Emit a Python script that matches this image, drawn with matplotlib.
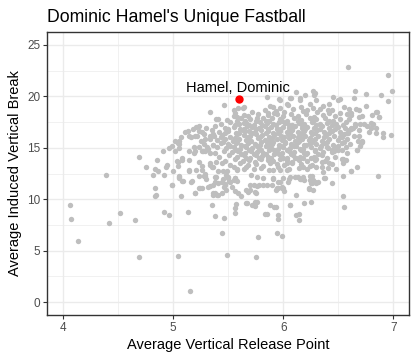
import matplotlib
matplotlib.use("Agg")
import matplotlib.pyplot as plt
import numpy as np

plt.rcParams['font.family'] = ['Liberation Sans', 'DejaVu Sans']

title = "Dominic Hamel's Unique Fastball"
x_label = "Average Vertical Release Point"
y_label = "Average Induced Vertical Break"
x_ticks = [4, 5, 6, 7]
y_ticks = [0, 5, 10, 15, 20, 25]

highlight_name = "Hamel, Dominic"
highlight_pt = (5.60, 19.7)

# dense core of the league cloud (release height, induced vertical break)
core_pts = [
    (5.88,19.1),(5.97,18.9),(6.04,19.2),(6.16,19.0),(6.27,18.9),(6.36,19.1),
    (5.72,18.5),(5.83,18.7),(5.93,18.6),(6.01,18.45),(6.09,18.75),(6.18,18.55),(6.22,18.7),(6.31,18.5),(6.44,18.65),
    (5.68,18.1),(5.77,18.3),(5.86,18.15),(5.94,18.25),(6.00,18.05),(6.07,18.3),(6.13,18.1),(6.21,18.25),(6.28,18.0),(6.36,18.2),(6.47,18.1),(6.58,18.3),
    (5.49,17.7),(5.62,17.9),(5.70,17.75),(5.76,17.85),(5.84,17.65),(5.90,17.9),(5.97,17.8),(6.03,17.6),(6.10,17.85),(6.16,17.7),(6.24,17.9),(6.30,17.75),(6.38,17.85),(6.45,17.65),(6.60,17.8),
    (5.43,17.3),(5.52,17.5),(5.60,17.35),(5.66,17.45),(5.73,17.25),(5.79,17.5),(5.85,17.4),(5.91,17.3),(5.96,17.55),(6.02,17.4),(6.08,17.25),(6.14,17.45),(6.19,17.35),(6.26,17.5),(6.33,17.3),(6.40,17.45),(6.48,17.35),(6.57,17.5),(6.70,17.3),
    (5.30,16.9),(5.38,17.1),(5.47,16.95),(5.55,17.05),(5.61,16.85),(5.67,17.1),(5.72,17.0),(5.78,16.9),(5.83,17.15),(5.89,17.0),(5.94,16.85),(6.00,17.05),(6.05,16.95),(6.11,17.15),(6.17,16.9),(6.22,17.05),(6.28,16.95),(6.35,17.1),(6.42,16.9),(6.50,17.05),(6.63,16.95),(6.76,17.1),
    (5.26,16.5),(5.35,16.7),(5.42,16.55),(5.50,16.65),(5.57,16.45),(5.63,16.7),(5.69,16.6),(5.74,16.5),(5.80,16.75),(5.86,16.6),(5.91,16.45),(5.97,16.65),(6.03,16.55),(6.08,16.75),(6.13,16.5),(6.19,16.65),(6.25,16.55),(6.31,16.7),(6.37,16.5),(6.44,16.65),(6.52,16.55),(6.60,16.7),(6.78,16.5),
    (5.20,16.1),(5.28,16.3),(5.37,16.15),(5.44,16.25),(5.52,16.05),(5.58,16.3),(5.64,16.2),(5.70,16.1),(5.75,16.35),(5.81,16.2),(5.87,16.05),(5.92,16.25),(5.98,16.15),(6.04,16.35),(6.09,16.1),(6.15,16.25),(6.20,16.15),(6.26,16.3),(6.32,16.1),(6.39,16.25),(6.46,16.15),(6.55,16.3),(6.64,16.1),
    (5.25,15.7),(5.33,15.9),(5.40,15.75),(5.47,15.85),(5.54,15.65),(5.60,15.9),(5.66,15.8),(5.71,15.7),(5.77,15.95),(5.83,15.8),(5.88,15.65),(5.94,15.85),(5.99,15.75),(6.05,15.95),(6.11,15.7),(6.17,15.85),(6.23,15.75),(6.29,15.9),(6.35,15.7),(6.42,15.85),(6.50,15.75),(6.58,15.9),(6.68,15.7),
    (5.36,15.3),(5.43,15.5),(5.50,15.35),(5.57,15.45),(5.62,15.25),(5.68,15.5),(5.74,15.4),(5.79,15.3),(5.85,15.55),(5.90,15.4),(5.96,15.25),(6.02,15.45),(6.07,15.35),(6.13,15.55),(6.19,15.3),(6.24,15.45),(6.30,15.35),(6.37,15.5),(6.45,15.3),(6.53,15.45),(6.61,15.35),
    (5.32,14.9),(5.40,15.1),(5.48,14.95),(5.55,15.05),(5.61,14.85),(5.66,15.1),(5.72,15.0),(5.78,14.9),(5.84,15.15),(5.89,15.0),(5.95,14.85),(6.00,15.05),(6.06,14.95),(6.12,15.15),(6.18,14.9),(6.25,15.05),(6.33,14.95),(6.40,15.1),(6.48,14.9),(6.57,15.05),
    (5.38,14.5),(5.46,14.7),(5.53,14.55),(5.59,14.65),(5.65,14.45),(5.71,14.7),(5.76,14.6),(5.82,14.5),(5.87,14.75),(5.93,14.6),(5.99,14.45),(6.05,14.65),(6.10,14.55),(6.16,14.75),(6.22,14.5),(6.29,14.65),(6.36,14.55),(6.46,14.7),(6.58,14.5),
    (5.42,14.1),(5.51,14.3),(5.58,14.15),(5.64,14.25),(5.70,14.05),(5.75,14.3),(5.81,14.2),(5.86,14.1),(5.92,14.35),(5.98,14.2),(6.03,14.05),(6.09,14.25),(6.15,14.15),(6.21,14.35),(6.28,14.1),(6.35,14.25),(6.47,14.15),
    (5.47,13.7),(5.56,13.9),(5.63,13.75),(5.69,13.85),(5.74,13.65),(5.80,13.9),(5.86,13.8),(5.91,13.7),(5.97,13.95),(6.03,13.8),(6.08,13.65),(6.14,13.85),(6.22,13.75),(6.30,13.9),(6.38,13.7),
    (5.52,13.3),(5.61,13.5),(5.68,13.35),(5.75,13.45),(5.82,13.25),(5.88,13.5),(5.94,13.4),(6.01,13.3),(6.08,13.55),(6.16,13.4),(6.26,13.3),(6.44,13.45),
    (5.58,12.9),(5.66,13.1),(5.73,12.95),(5.80,13.05),(5.87,12.85),(5.95,13.1),(6.05,12.95),(6.14,13.05),(6.22,12.9),(6.30,13.1),
]

# second layer filling the densest part of the cloud
core_fill = [
    (5.65,17.6),(5.75,17.65),(5.87,17.6),(5.99,17.65),(6.13,17.6),(6.27,17.65),(6.42,17.6),
    (5.56,17.2),(5.69,17.2),(5.81,17.25),(5.93,17.2),(6.05,17.2),(6.17,17.2),(6.30,17.25),(6.44,17.2),
    (5.50,16.8),(5.64,16.85),(5.75,16.8),(5.86,16.85),(5.97,16.8),(6.08,16.85),(6.20,16.8),(6.33,16.85),(6.47,16.8),
    (5.47,16.4),(5.60,16.4),(5.72,16.45),(5.84,16.4),(5.95,16.4),(6.06,16.45),(6.17,16.4),(6.29,16.4),(6.42,16.45),(6.58,16.4),
    (5.43,16.0),(5.56,15.95),(5.68,16.0),(5.79,16.0),(5.90,15.95),(6.01,16.0),(6.13,16.0),(6.24,15.95),(6.37,16.0),(6.52,16.0),
    (5.45,15.6),(5.58,15.6),(5.69,15.65),(5.80,15.6),(5.91,15.6),(6.02,15.6),(6.14,15.65),(6.26,15.6),(6.40,15.6),(6.55,15.6),
    (5.52,15.2),(5.65,15.2),(5.76,15.2),(5.87,15.25),(5.98,15.2),(6.10,15.2),(6.21,15.25),(6.34,15.2),(6.50,15.2),
    (5.57,14.8),(5.69,14.8),(5.80,14.8),(5.92,14.8),(6.03,14.8),(6.15,14.85),(6.29,14.8),(6.44,14.8),
    (5.62,14.4),(5.73,14.4),(5.84,14.4),(5.96,14.4),(6.07,14.4),(6.19,14.45),(6.32,14.4),
    (5.66,14.0),(5.78,14.0),(5.89,14.0),(6.00,14.0),(6.12,14.0),(6.25,14.0),
]

# upper and left fringe
upper_pts = [
    (5.46,19.15),(5.33,18.5),(5.39,17.8),(5.41,17.8),(5.23,17.1),(5.18,16.8),(5.11,16.5),(5.14,16.1),(5.07,16.0),(5.04,15.5),
    (5.05,15.7),(5.22,16.1),(5.29,15.9),(5.36,16.3),(5.33,16.1),(4.99,15.2),(4.96,15.0),(4.91,14.7),(5.05,15.0),(4.69,14.1),
    (4.85,13.85),(4.94,13.3),(4.93,13.1),(4.75,13.1),(4.83,12.9),(5.04,13.65),(5.08,14.0),(5.04,13.2),(5.14,13.85),(5.19,15.1),
    (5.23,15.1),(5.19,14.5),(5.28,15.4),(5.31,15.1),(5.36,15.25),(5.27,14.7),(5.33,14.5),(5.23,13.65),(5.26,13.25),(5.33,13.35),
    (5.39,13.65),(5.36,13.1),(5.14,12.7),(5.05,12.3),(5.28,12.3),(5.41,12.7),
    (5.55,18.7),(5.56,18.35),(5.58,17.95),(5.58,17.6),(5.21,17.0),(5.23,16.6),(5.13,16.6),(5.16,16.0),(5.02,15.7),(5.05,15.4),
    (5.64,19.0),(5.64,18.2),(5.64,17.4),(5.65,16.6),
    (5.97,19.6),(6.03,19.3),(6.06,19.8),(6.12,20.4),(6.15,19.6),(6.20,20.1),(6.29,20.3),(6.30,19.6),(6.24,19.3),(6.33,18.8),
    (5.91,19.0),(5.86,18.35),(5.92,18.35),(5.82,17.85),
    (5.63,18.9),(5.59,18.9),(5.55,18.1),(6.27,20.5),(6.28,20.1),(6.15,19.8),(6.07,19.8),(5.96,19.7),(5.85,19.9),
    (5.03,13.7),(5.08,13.8),(5.33,13.5),(5.35,13.15),(5.44,13.5),(5.45,12.7),(5.49,12.7),(5.55,13.15),(5.58,12.85),
    (5.02,14.7),(5.14,14.7),(5.20,14.7),(5.26,14.7),(5.29,14.7),(5.00,12.75),(4.86,12.7),(5.21,12.85),(5.26,12.85),(5.29,12.5),
]

# right-hand fringe
right_pts = [
    (6.59,22.85),(6.95,22.1),(6.99,20.5),(6.95,19.5),(6.89,20.1),(6.75,20.2),(6.65,20.5),(6.64,19.8),(6.75,19.1),(6.84,18.5),
    (6.87,17.95),(6.82,17.3),(6.80,16.9),(6.91,16.4),(6.91,16.0),(6.98,16.2),(6.67,14.8),(6.72,15.7),(6.71,15.45),
    (6.45,19.9),(6.50,19.6),(6.52,19.7),(6.42,19.3),(6.41,18.7),(6.42,18.35),(6.52,18.35),(6.52,17.8),(6.62,18.35),(6.72,18.1),
    (6.81,18.15),(6.85,18.5),(6.87,18.0),(6.80,17.4),(6.84,16.9),(6.84,16.4),(6.69,16.7),(6.69,16.1),(6.72,15.6),(6.65,17.3),
    (6.62,16.9),(6.56,16.9),(6.54,17.2),(6.55,19.0),(6.60,18.75),(6.66,18.8),(6.69,18.7),(6.62,18.15),(6.69,17.95),(6.73,17.3),
    (6.65,17.15),(6.62,16.8),(6.59,16.4),(6.53,16.0),(6.67,13.1),(6.54,13.95),(6.54,13.55),
    (6.70,15.2),(6.67,14.75),(6.53,13.9),(6.57,13.8),(6.62,12.7),(6.44,11.55),(6.50,14.8),(6.53,14.8),(6.47,15.1),
    (6.41,14.95),(6.44,14.6),(6.40,14.0),(6.42,13.5),(6.41,13.0),(6.38,12.05),(6.54,12.3),(6.86,12.3),(6.48,12.9),(6.36,12.6),
]

# lower fringe and outliers
lower_pts = [
    (4.39,12.4),(4.06,9.4),(4.07,8.1),(4.13,5.9),(4.42,7.7),(4.52,8.7),(4.65,8.0),(4.69,4.4),(4.83,11.1),(4.84,10.4),
    (4.82,12.4),(4.92,12.4),(4.92,8.8),(4.96,8.5),(4.99,11.4),(5.04,4.5),(5.15,1.07),(5.05,12.2),(5.09,11.8),(5.07,10.3),
    (5.13,8.8),(5.16,11.7),(5.20,10.6),(5.23,11.1),(5.26,11.1),(5.23,12.3),(5.29,12.3),(5.30,12.0),(5.33,11.3),(5.36,10.6),
    (5.36,10.4),(5.40,10.4),(5.44,10.6),(5.35,9.4),(5.38,8.35),(5.46,8.2),(5.44,6.7),(5.49,4.6),(5.38,11.65),(5.38,12.2),
    (5.46,11.2),(5.48,12.4),(5.51,11.8),
    (5.75,4.4),(5.77,6.3),(5.94,6.7),(5.99,6.4),(5.85,8.6),(5.95,8.45),(5.95,8.06),(5.93,9.2),(5.88,9.4),(5.72,9.4),
    (5.74,9.3),(5.76,9.7),(5.66,9.6),(5.56,9.1),(5.56,8.7),(5.57,9.5),(6.06,9.4),(6.12,8.5),(6.14,8.0),(6.12,10.4),
    (6.19,9.6),(6.25,9.7),(6.54,10.3),(6.55,9.2),(6.62,12.7),(6.37,12.1),(6.26,12.3),(6.25,11.6),(6.30,11.6),(6.24,11.9),
    (6.23,11.0),(6.27,10.9),(6.16,12.0),(6.13,12.2),(6.19,11.9),(6.05,12.0),(6.04,11.65),(6.01,10.8),(5.99,11.1),(5.95,11.1),
    (5.95,11.65),(5.91,12.0),(5.90,11.4),(5.93,10.9),(5.85,11.35),(5.82,11.35),(5.78,11.4),(5.76,11.3),(5.73,11.35),(5.70,11.4),
    (5.75,10.6),(5.68,10.7),(5.66,10.9),(5.62,10.3),(5.59,10.6),(5.56,10.8),(5.48,10.9),(5.47,11.5),(5.55,11.85),(5.58,11.75),
    (5.56,12.1),(5.45,12.0),(5.50,12.1),
    (5.64,12.95),(5.74,10.75),(5.70,10.9),(5.67,9.6),(5.73,9.45),(5.74,9.7),(5.92,9.2),(5.83,8.55),(6.06,9.45),(6.14,8.55),
    (5.94,11.05),(5.99,11.2),(6.00,11.05),(5.97,11.7),(6.11,12.2),(6.15,12.0),(6.18,12.2),(6.23,11.05),(6.26,11.55),(6.29,11.65),
    (6.32,11.65),(6.27,11.85),(6.24,12.3),(6.18,13.15),(6.24,13.25),(6.29,13.8),(6.35,13.65),(6.35,13.15),(5.91,12.85),(5.97,12.85),
    (6.03,12.85),(5.91,12.05),(6.00,12.05),(6.06,12.2),(6.11,14.0),(6.18,14.0),(6.03,13.5),(5.82,12.05),(5.76,12.2),(5.71,12.35),
    (5.14,12.85),(5.50,12.2),(5.56,12.05),(5.52,11.7),(5.53,11.2),(5.47,11.4),(5.44,11.7),(5.39,12.2),(5.41,11.55),(5.36,11.4),
    (5.38,10.6),(5.41,10.4),(4.99,11.4),(5.08,11.8),(5.17,11.8),(5.05,12.1),(5.20,10.6),(5.24,11.1),(5.32,11.2),(4.83,10.35),
]

all_pts = np.array(core_pts + core_fill + upper_pts + right_pts + lower_pts)

W, H = 417, 360
fig = plt.figure(figsize=(W / 100, H / 100), dpi=100)
ax = fig.add_axes([47 / W, 1 - 315 / H, (409 - 47) / W, (315 - 32) / H])

ax.scatter(all_pts[:, 0], all_pts[:, 1], s=15, color='#BEBEBE', linewidths=0, zorder=2)
ax.scatter([highlight_pt[0]], [highlight_pt[1]], s=36, color='#FF0000', linewidths=0, zorder=3)
ax.text(highlight_pt[0] - 0.01, highlight_pt[1] + 0.75, highlight_name, ha='center', va='baseline',
        fontsize=10.5, color='black', zorder=4)

ax.set_xlim(3.852, 7.143)
ax.set_ylim(-1.25, 26.25)
ax.set_xticks(x_ticks)
ax.set_yticks(y_ticks)
ax.set_xticks([4.5, 5.5, 6.5], minor=True)
ax.set_yticks([2.5, 7.5, 12.5, 17.5, 22.5], minor=True)
ax.grid(which='major', color='#EBEBEB', linewidth=1.0, zorder=0)
ax.grid(which='minor', color='#EBEBEB', linewidth=0.5, zorder=0)
ax.set_axisbelow(True)

for sp in ax.spines.values():
    sp.set_color('#333333')
    sp.set_linewidth(1.0)

ax.tick_params(which='major', length=2.6, width=0.8, color='#333333', labelcolor='#4D4D4D',
               labelsize=8.5, pad=2.1)
ax.tick_params(which='minor', length=0)

ax.set_xlabel(x_label, fontsize=10.5, color='black', labelpad=3)
ax.set_ylabel(y_label, fontsize=10.5, color='black', labelpad=4)
ax.set_title(title, loc='left', fontsize=12.7, color='black', pad=7.4)

fig.savefig('out.png', dpi=100)
